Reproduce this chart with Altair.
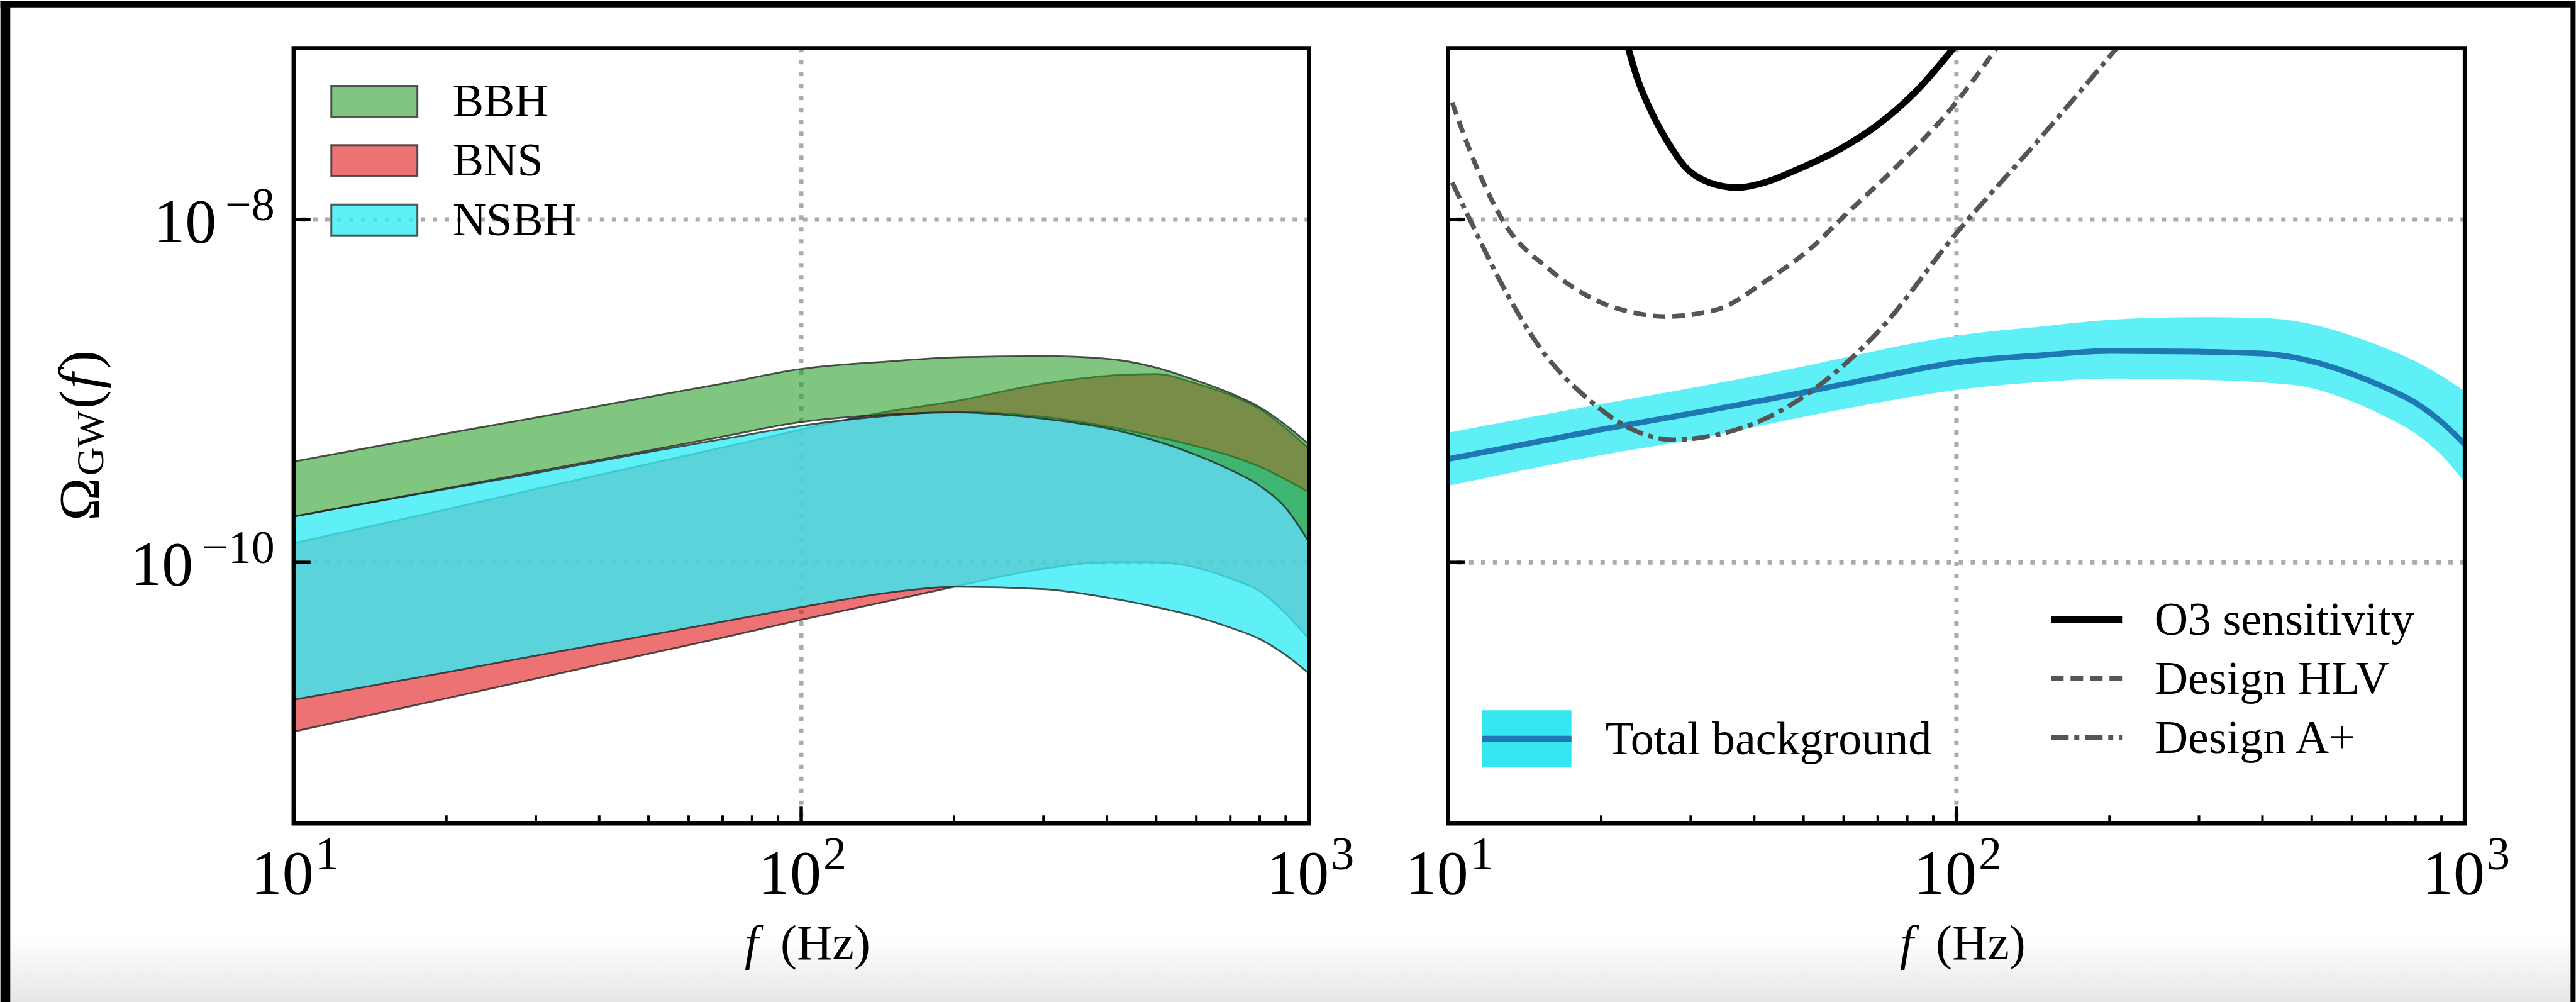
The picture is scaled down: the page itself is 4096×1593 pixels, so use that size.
import altair as alt
import pandas as pd

# ---------------- values ----------------
FREQ = [10, 20, 30, 50, 70, 100, 150, 200, 300, 400, 500, 600, 700, 800, 900, 1000]

# left panel: 90% credible bands, log10 Omega_GW(f)
BBH_HI = [-9.412, -9.248, -9.155, -9.035, -8.957, -8.872, -8.827, -8.804, -8.797, -8.812, -8.864, -8.939, -9.013, -9.095, -9.199, -9.311]
BBH_LO = [-9.732, -9.568, -9.471, -9.348, -9.266, -9.181, -9.136, -9.125, -9.162, -9.218, -9.292, -9.374, -9.460, -9.553, -9.683, -9.881]
BNS_HI = [-9.888, -9.691, -9.572, -9.426, -9.330, -9.225, -9.117, -9.061, -8.957, -8.912, -8.901, -8.957, -9.024, -9.106, -9.218, -9.337]
BNS_LO = [-10.987, -10.793, -10.678, -10.533, -10.439, -10.335, -10.223, -10.142, -10.037, -10.000, -10.000, -10.030, -10.093, -10.168, -10.298, -10.447]
NSBH_HI = [-9.732, -9.572, -9.479, -9.356, -9.281, -9.203, -9.143, -9.121, -9.151, -9.207, -9.266, -9.322, -9.378, -9.441, -9.516, -9.590]
NSBH_LO = [-10.801, -10.641, -10.544, -10.425, -10.346, -10.261, -10.175, -10.142, -10.156, -10.205, -10.261, -10.317, -10.380, -10.447, -10.540, -10.648]
SOURCES = ["BBH", "BNS", "NSBH"]

# right panel: total background (median and band), log10 Omega_GW(f)
TOT_MED = [-9.397, -9.225, -9.132, -9.009, -8.920, -8.834, -8.790, -8.767, -8.771, -8.782, -8.827, -8.901, -8.983, -9.069, -9.181, -9.311]
TOT_HI = [-9.244, -9.076, -8.983, -8.857, -8.764, -8.678, -8.622, -8.585, -8.570, -8.574, -8.611, -8.678, -8.752, -8.827, -8.912, -9.002]
TOT_LO = [-9.553, -9.374, -9.285, -9.151, -9.069, -8.994, -8.946, -8.927, -8.935, -8.950, -8.983, -9.061, -9.151, -9.248, -9.374, -9.534]
TOTAL_LABEL = "Total background"

# sensitivity curves (frequency in Hz, log10 Omega)
O3_F = [22.6, 23.5, 25.3, 27.2, 29.2, 32.6, 37.0, 42.0, 48.6, 58.3, 69.9, 83.8, 98.7]
O3_L = [-7.0, -7.169, -7.393, -7.561, -7.691, -7.784, -7.814, -7.784, -7.709, -7.598, -7.449, -7.244, -7.0]
HLV_F = [10.18, 11.36, 12.90, 15.75, 19.59, 23.50, 26.68, 33.80, 42.03, 52.24, 60.40, 75.14, 99.8, 120.5]
HLV_L = [-7.318, -7.691, -8.022, -8.287, -8.473, -8.547, -8.566, -8.525, -8.361, -8.156, -7.974, -7.709, -7.318, -6.991]
APL_F = [10.18, 11.03, 12.66, 15.19, 18.89, 23.50, 27.67, 33.80, 42.03, 52.24, 69.90, 99.8, 144.5, 208.0]
APL_L = [-7.784, -8.0, -8.361, -8.752, -9.050, -9.236, -9.285, -9.255, -9.162, -8.994, -8.659, -8.082, -7.542, -6.991]
CURVES = ["O3 sensitivity", "Design HLV", "Design A+"]

# axes
X_TICKS = [10, 100, 1000]
X_EXP = ["1", "2", "3"]
X_MINOR = [20, 30, 40, 50, 60, 70, 80, 90, 200, 300, 400, 500, 600, 700, 800, 900]
X_GRID = [100]
Y_TICKS = [1e-8, 1e-10]
Y_EXP = ["\u22128", "\u221210"]
Y_TITLE = ["\u03a9", "GW", "(", "f", ")"]
X_TITLE = ["f", "(Hz)"]

# ---------------- layout / style ----------------
S = 0.909
WIN_W, WIN_H = 4096, 1593
PL, PT = 513 * S, 83 * S
W1, W2, H = 1777 * S, 1779 * S, 1357 * S
GAP = 243 * S
FONT = "Liberation Serif"
TICK_FS, EXP_FS, TITLE_FS, LEG_FS = 100, 74, 78, 74
GRID_COL = "#ababab"

FILL = {"BBH": "#2ca02c", "BNS": "#df1417", "NSBH": "#36ecf4"}
ALPHA = {"BBH": 0.6, "BNS": 0.6, "NSBH": 0.8}
CURVE_STYLE = {
    "O3 sensitivity": dict(color="black", strokeWidth=10.5),
    "Design HLV": dict(color="#555555", strokeWidth=7.5, strokeDash=[20, 11]),
    "Design A+": dict(color="#555555", strokeWidth=7.5, strokeDash=[28, 9, 8, 9]),
}

xs = alt.Scale(type="log", domain=[10, 1000], nice=False)
ys = alt.Scale(type="log", domain=[3e-12, 1e-7], nice=False)
one = pd.DataFrame({"k": [0]})


def X(field="f"):
    return alt.X(f"{field}:Q", scale=xs, axis=None)


def Y(field):
    return alt.Y(f"{field}:Q", scale=ys, axis=None)


def rect(x, x2, y, y2, **kw):
    return alt.Chart(one).mark_rect(**kw).encode(
        x=alt.value(x), x2=alt.value(x2), y=alt.value(y), y2=alt.value(y2))


def text(t, x, y, size, align="left", angle=0, italic=False):
    kw = dict(text=t, font=FONT, fontSize=size, align=align, baseline="alphabetic", color="black")
    if angle:
        kw["angle"] = angle
    if italic:
        kw["fontStyle"] = "italic"
    return alt.Chart(one).mark_text(**kw).encode(x=alt.value(x), y=alt.value(y))


def common_axes(W):
    layers = []
    # frame
    layers.append(rect(0, W, 0, H, fillOpacity=0, stroke="black", strokeWidth=6.4))
    # inward ticks
    layers.append(alt.Chart(pd.DataFrame({"f": X_MINOR})).mark_rule(color="black", strokeWidth=4).encode(
        x=X(), y=alt.value(H), y2=alt.value(H - 13)))
    layers.append(alt.Chart(pd.DataFrame({"f": X_TICKS})).mark_rule(color="black", strokeWidth=5.5).encode(
        x=X(), y=alt.value(H), y2=alt.value(H - 27)))
    layers.append(alt.Chart(pd.DataFrame({"v": Y_TICKS})).mark_rule(color="black", strokeWidth=5.5).encode(
        y=Y("v"), x=alt.value(0), x2=alt.value(27)))
    # x tick labels 10^n
    xl = pd.DataFrame({"f": X_TICKS, "base": ["10"] * len(X_TICKS), "exp": X_EXP})
    layers.append(alt.Chart(xl).mark_text(font=FONT, fontSize=TICK_FS, align="right", baseline="alphabetic",
                                          dx=32, color="black").encode(x=X(), y=alt.value(H + 112), text="base:N"))
    layers.append(alt.Chart(xl).mark_text(font=FONT, fontSize=EXP_FS, align="left", baseline="alphabetic",
                                          dx=35, color="black").encode(x=X(), y=alt.value(H + 73), text="exp:N"))
    # x title
    layers.append(text(X_TITLE[0], W / 2 - 90, H + 216, TITLE_FS, italic=True))
    layers.append(text(X_TITLE[1], W / 2 - 33, H + 216, TITLE_FS))
    return layers


def grid_layers():
    g = dict(color=GRID_COL, strokeWidth=7, strokeDash=[7, 12], strokeCap="butt")
    return [
        alt.Chart(pd.DataFrame({"f": X_GRID})).mark_rule(**g).encode(x=X()),
        alt.Chart(pd.DataFrame({"v": Y_TICKS})).mark_rule(**g).encode(y=Y("v")),
    ]


# ---------------- left panel ----------------
rows = []
for name, hi, lo in [("BBH", BBH_HI, BBH_LO), ("BNS", BNS_HI, BNS_LO), ("NSBH", NSBH_HI, NSBH_LO)]:
    for f, h, l in zip(FREQ, hi, lo):
        rows.append({"src": name, "f": f, "hi": 10 ** h, "lo": 10 ** l})
bands = pd.DataFrame(rows)

left_layers = []
# screenshot surroundings
grad = alt.LinearGradient(gradient="linear", x1=0, x2=0, y1=0, y2=1,
                          stops=[alt.GradientStop(color="#ffffff", offset=0),
                                 alt.GradientStop(color="#e6e6e6", offset=1)])
left_layers.append(rect(-PL, WIN_W - PL, 1640 * S - PT, WIN_H - PT, fill=grad))
left_layers.append(rect(-PL, WIN_W - PL, -PT, -PT + 10.8, fill="black"))
left_layers.append(rect(-PL, -PL + 15.6, -PT, WIN_H - PT, fill="black"))

left_layers += grid_layers()
for name in ["BNS", "NSBH", "BBH"]:
    left_layers.append(
        alt.Chart(bands[bands.src == name]).mark_area(
            clip=True, orient="vertical", interpolate="monotone", fill=FILL[name], fillOpacity=ALPHA[name],
            stroke="#262626", strokeOpacity=0.8, strokeWidth=2.8
        ).encode(x=X(), y=Y("hi"), y2="lo:Q")
    )

# legend
for i, name in enumerate(SOURCES):
    cy = 84.6 + i * 94.5
    left_layers.append(rect(60, 197, cy - 24.5, cy + 24.5, fill=FILL[name], fillOpacity=ALPHA[name],
                            stroke="#3a3a3a", strokeOpacity=0.85, strokeWidth=3))
    left_layers.append(text(name, 253, cy + 24, LEG_FS))

left_layers += common_axes(W1)

# y tick labels
for v, e in zip(Y_TICKS, Y_EXP):
    ew = EXP_FS * (0.564 + 0.5 * (len(e) - 1))
    d = pd.DataFrame({"v": [v], "exp": [e], "base": ["10"]})
    left_layers.append(alt.Chart(d).mark_text(font=FONT, fontSize=EXP_FS, align="right", baseline="alphabetic",
                                              dy=1, color="black").encode(x=alt.value(-30), y=Y("v"), text="exp:N"))
    left_layers.append(alt.Chart(d).mark_text(font=FONT, fontSize=TICK_FS, align="right", baseline="alphabetic",
                                              dy=36, color="black").encode(x=alt.value(-30 - ew - 14), y=Y("v"), text="base:N"))

# y title  (Omega_GW(f)), rotated
left_layers.append(text(Y_TITLE[0], -310, 752, 92, angle=270))
left_layers.append(text(Y_TITLE[1], -303, 680, 62, angle=270))
left_layers.append(text(Y_TITLE[2], -310, 574, 90, angle=270))
left_layers.append(text(Y_TITLE[3], -310, 542, 90, angle=270, italic=True))
left_layers.append(text(Y_TITLE[4], -310, 511, 90, angle=270))

left = alt.layer(*left_layers).properties(width=W1, height=H)

# ---------------- right panel ----------------
tot = pd.DataFrame({"f": FREQ, "med": [10 ** v for v in TOT_MED],
                    "hi": [10 ** v for v in TOT_HI], "lo": [10 ** v for v in TOT_LO]})
curve_data = {
    "O3 sensitivity": pd.DataFrame({"f": O3_F, "v": [10 ** v for v in O3_L]}),
    "Design HLV": pd.DataFrame({"f": HLV_F, "v": [10 ** v for v in HLV_L]}),
    "Design A+": pd.DataFrame({"f": APL_F, "v": [10 ** v for v in APL_L]}),
}

R0 = PL + W1 + GAP
right_layers = []
right_layers.append(rect(4088 - R0, WIN_W - R0, -PT, WIN_H - PT, fill="black"))
right_layers += grid_layers()
right_layers.append(alt.Chart(tot).mark_area(clip=True, orient="vertical", interpolate="monotone",
                                             fill="#5ef0f6").encode(x=X(), y=Y("hi"), y2="lo:Q"))
right_layers.append(alt.Chart(tot).mark_line(clip=True, interpolate="monotone", color="#1f77b4",
                                             strokeWidth=9).encode(x=X(), y=Y("med")))
for name in ["Design HLV", "Design A+", "O3 sensitivity"]:
    right_layers.append(alt.Chart(curve_data[name]).mark_line(clip=True, interpolate="monotone", strokeCap="butt",
                                                              **CURVE_STYLE[name]).encode(x=X(), y=Y("v")))

# legends
for i, name in enumerate(CURVES):
    cy = 909 + i * 94
    right_layers.append(alt.Chart(one).mark_rule(strokeCap="butt", **CURVE_STYLE[name]).encode(
        x=alt.value(959), x2=alt.value(1072), y=alt.value(cy)))
    right_layers.append(text(name, 1123.5, cy + 24, LEG_FS))
right_layers.append(rect(53.6, 196, 1053.5, 1144.5, fill="#33e6f0"))
right_layers.append(alt.Chart(one).mark_rule(color="#1f77b4", strokeWidth=10).encode(
    x=alt.value(53.6), x2=alt.value(196), y=alt.value(1099)))
right_layers.append(text(TOTAL_LABEL, 250, 1123, LEG_FS))

right_layers += common_axes(W2)
right = alt.layer(*right_layers).properties(width=W2, height=H)

chart = alt.hconcat(left, right, spacing=GAP, bounds="flush").properties(
    padding=0, background="white").configure_view(strokeWidth=0)

chart.save("out.html", embed_options={"renderer": "svg", "actions": False})
